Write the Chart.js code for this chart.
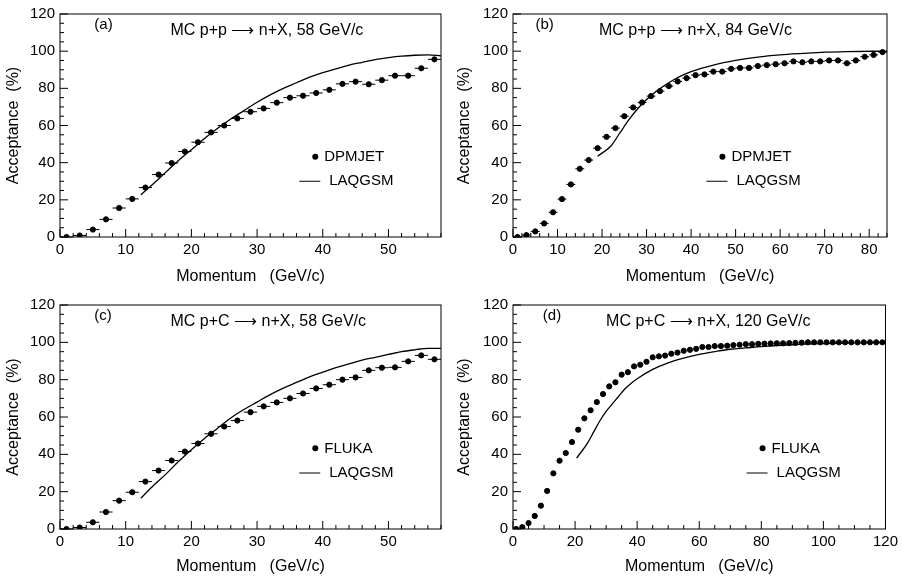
<!DOCTYPE html>
<html>
<head>
<meta charset="utf-8">
<script src="https://cdn.jsdelivr.net/npm/chart.js@4"></script>
<style>
  body { margin: 0; background: #fff; }
  #wrap { position: relative; width: 902px; height: 581px; }
  .cell { position: absolute; width: 451px; height: 290px; }
</style>
</head>
<body>
<div id="wrap">
  <div class="cell" style="left:0;top:0"><canvas id="cA"></canvas></div>
  <div class="cell" style="left:451px;top:0"><canvas id="cB"></canvas></div>
  <div class="cell" style="left:0;top:290px"><canvas id="cC"></canvas></div>
  <div class="cell" style="left:451px;top:290px"><canvas id="cD"></canvas></div>
</div>
<script>
// Panel (a): p+p, 58 GeV/c
const aMomentum = [1,3,5,7,9,11,13,15,17,19,21,23,25,27,29,31,33,35,37,39,41,43,45,47,49,51,53,55,57];
const aDpmjet = [0,0.8,4,9.5,15.6,20.5,26.6,33.6,39.8,46,51,56.3,60,63.8,67.4,69.2,72.3,75,76,77.5,79.2,82.4,83.6,82.2,84.4,86.8,86.8,90.8,95.6];
const aLaqX = [12.3,14,16,18,20,22,24,26,28,30,32,34,36,38,40,42,44,46,48,50,52,54,56,58];
const aLaqY = [22.7,28,34.5,41,47,53,58.5,63.5,68,72.5,76.5,80,83,86,88.5,90.5,92.5,94,95.5,96.5,97.3,97.8,98,97.5];

// Panel (b): p+p, 84 GeV/c
const bMomentum = [1,3,5,7,9,11,13,15,17,19,21,23,25,27,29,31,33,35,37,39,41,43,45,47,49,51,53,55,57,59,61,63,65,67,69,71,73,75,77,79,81,83];
const bDpmjet = [0,1,3,7.3,13.3,20.4,28.3,36.7,41.4,47.8,53.9,58.6,65,69.7,72.4,75.8,78.5,81.2,83.7,85.5,87.1,87.5,89,89,90.5,91,91,92,92.5,93,93.5,94.5,94,94.5,94.5,95,95,93.5,95,97,98,99.5];
const bLaqX = [19,22,24,26,28,30,32,34,36,38,40,45,50,55,60,65,70,75,84];
const bLaqY = [43.5,49,56,63,69,74,78,81.5,84.5,87,89,92.5,95,96.8,98,98.8,99.5,99.8,100];

// Panel (c): p+C, 58 GeV/c
const cMomentum = aMomentum;
const cFluka = [0,0.8,3.6,9.1,15.2,19.7,25.4,31.3,36.7,41.5,45.8,51,54.9,58.1,62.6,65.7,67.8,70,72.6,75.3,77.3,80,81.2,85,86.4,86.6,89.8,93,90.9];
const cLaqX = [12.3,14,16,18,20,22,24,26,28,30,32,34,36,38,40,42,44,46,48,50,52,54,56,58];
const cLaqY = [16.5,22.5,29,36,42.5,48.5,54,59.5,64,68,72,75.5,78.5,81.5,84,86.5,88.5,90.5,92,93.5,95,96,96.8,96.8];

// Panel (d): p+C, 120 GeV/c
const dMomentum = [1,3,5,7,9,11,13,15,17,19,21,23,25,27,29,31,33,35,37,39,41,43,45,47,49,51,53,55,57,59,61,63,65,67,69,71,73,75,77,79,81,83,85,87,89,91,93,95,97,99,101,103,105,107,109,111,113,115,117,119];
const dFluka = [0,1,3.2,7,12.5,20.4,29.8,36.6,40.7,46.6,53.2,59.3,63.6,68,72.3,76.4,78.6,82.7,84,87.1,88,89.6,92,92.5,92.9,93.9,94.5,95.5,96,96.5,97.5,97.5,98,98,98.2,98.5,98.7,99,99,99.2,99.3,99.4,99.5,99.5,99.6,99.7,99.8,100,100,100,100,100,100,100,100,100,100,100,100,100];
const dLaqX = [20.5,24,26,28,30,32,34,36,38,40,45,50,55,60,65,70,75,80,90,100,110,120];
const dLaqY = [38,46,52,58,63,67,71,75,78,80.5,85.5,89,91.5,93.5,95,96.3,97,97.7,98.7,99.3,99.7,100];

const FONT = 'Liberation Sans, Arial, sans-serif';

// inward ticks, horizontal bin bars and text labels, drawn with the chart scales
const decorPlugin = {
  id: 'decor',
  afterDatasetsDraw(chart, args, o) {
    const ctx = chart.ctx, a = chart.chartArea;
    const xs = chart.scales.x, ys = chart.scales.y;
    ctx.save();
    ctx.strokeStyle = '#000';
    ctx.lineWidth = 1;
    // bin-width bars
    if (o.halfBin) {
      const ds = chart.data.datasets[0].data;
      ctx.beginPath();
      ds.forEach(p => {
        const y = ys.getPixelForValue(p.y);
        ctx.moveTo(xs.getPixelForValue(p.x - o.halfBin), y);
        ctx.lineTo(xs.getPixelForValue(p.x + o.halfBin), y);
      });
      ctx.stroke();
    }
    // ticks
    ctx.beginPath();
    for (let v = 0; v <= o.xMax + 1e-6; v += o.xMinor) {
      const px = xs.getPixelForValue(v);
      const major = Math.abs(v / o.xMajor - Math.round(v / o.xMajor)) < 1e-6;
      ctx.moveTo(px, a.bottom);
      ctx.lineTo(px, a.bottom - (major ? 8 : 4));
    }
    for (let v = 0; v <= 120; v += 5) {
      const py = ys.getPixelForValue(v);
      ctx.moveTo(a.left, py);
      ctx.lineTo(a.left + (v % 20 === 0 ? 8 : 4), py);
    }
    ctx.stroke();
    // frame
    ctx.strokeRect(a.left, a.top, a.width, a.height);
    // texts
    const W = a.width, H = a.height;
    ctx.fillStyle = '#000';
    ctx.textBaseline = 'middle';
    ctx.font = '15px ' + FONT;
    ctx.fillText(o.tag, a.left + o.tagX * W, a.top + 11);
    ctx.font = '16px ' + FONT;
    ctx.fillText(o.title, a.left + o.titleX * W, a.top + 17);
    ctx.font = '15px ' + FONT;
    ctx.beginPath();
    ctx.arc(a.left + o.legX * W, a.top + 0.64 * H, 3, 0, Math.PI * 2);
    ctx.fill();
    ctx.fillText(o.mcName, a.left + o.legX * W + 9, a.top + 0.64 * H);
    ctx.beginPath();
    ctx.moveTo(a.left + o.legX * W - 16, a.top + 0.75 * H);
    ctx.lineTo(a.left + o.legX * W + 5, a.top + 0.75 * H);
    ctx.stroke();
    ctx.fillText('LAQGSM', a.left + o.legX * W + 14, a.top + 0.75 * H);
    ctx.restore();
  }
};

function zip(xs, ys) { return xs.map((x, i) => ({ x: x, y: ys[i] })); }

function makePanel(id, cfg) {
  new Chart(document.getElementById(id), {
    type: 'scatter',
    data: {
      datasets: [{
        label: cfg.mcName,
        data: zip(cfg.px, cfg.py),
        backgroundColor: '#000',
        borderColor: '#000',
        pointRadius: 2.6,
        pointHoverRadius: 2.6
      }, {
        label: 'LAQGSM',
        type: 'line',
        data: zip(cfg.lx, cfg.ly),
        borderColor: '#000',
        borderWidth: 1.3,
        pointRadius: 0,
        fill: false,
        tension: 0.4,
        cubicInterpolationMode: 'monotone'
      }]
    },
    options: {
      responsive: true,
      maintainAspectRatio: false,
      animation: false,
      layout: { padding: { top: cfg.top, right: cfg.right } },
      plugins: {
        legend: { display: false },
        tooltip: { enabled: false },
        decor: cfg.decor
      },
      scales: {
        x: {
          type: 'linear', min: 0, max: cfg.xMax,
          grid: { display: false, drawTicks: false },
          border: { display: false },
          afterBuildTicks(s) {
            const t = [];
            for (let v = 0; v <= cfg.xMax; v += cfg.decor.xMajor) t.push({ value: v });
            s.ticks = t;
          },
          ticks: { color: '#000', font: { family: FONT, size: 15 }, padding: 4 },
          title: { display: true, text: 'Momentum   (GeV/c)', color: '#000', font: { family: FONT, size: 16 }, padding: { top: 0 } },
          afterFit(s) { s.height = cfg.xH; }
        },
        y: {
          min: 0, max: 120,
          grid: { display: false, drawTicks: false },
          border: { display: false },
          ticks: { stepSize: 20, color: '#000', font: { family: FONT, size: 15 }, padding: 5 },
          title: { display: true, text: 'Acceptance  (%)', color: '#000', font: { family: FONT, size: 16 }, padding: { bottom: 2 } },
          afterFit(s) { s.width = cfg.yW; }
        }
      }
    },
    plugins: [decorPlugin]
  });
}

makePanel('cA', { mcName: 'DPMJET', px: aMomentum, py: aDpmjet, lx: aLaqX, ly: aLaqY, xMax: 58,
  top: 12, right: 10, xH: 53, yW: 60,
  decor: { halfBin: 1, xMax: 58, xMinor: 2, xMajor: 10, tag: '(a)', tagX: 0.09, title: 'MC p+p \u27F6 n+X, 58 GeV/c', titleX: 0.29, legX: 0.67, mcName: 'DPMJET' } });
makePanel('cB', { mcName: 'DPMJET', px: bMomentum, py: bDpmjet, lx: bLaqX, ly: bLaqY, xMax: 84,
  top: 12, right: 15, xH: 53, yW: 62,
  decor: { halfBin: 1, xMax: 84, xMinor: 2, xMajor: 10, tag: '(b)', tagX: 0.06, title: 'MC p+p \u27F6 n+X, 84 GeV/c', titleX: 0.23, legX: 0.56, mcName: 'DPMJET' } });
makePanel('cC', { mcName: 'FLUKA', px: cMomentum, py: cFluka, lx: cLaqX, ly: cLaqY, xMax: 58,
  top: 15, right: 10, xH: 51, yW: 60,
  decor: { halfBin: 1, xMax: 58, xMinor: 2, xMajor: 10, tag: '(c)', tagX: 0.09, title: 'MC p+C \u27F6 n+X, 58 GeV/c', titleX: 0.29, legX: 0.67, mcName: 'FLUKA' } });
makePanel('cD', { mcName: 'FLUKA', px: dMomentum, py: dFluka, lx: dLaqX, ly: dLaqY, xMax: 120,
  top: 15, right: 15, xH: 51, yW: 62,
  decor: { halfBin: 0, xMax: 120, xMinor: 5, xMajor: 20, tag: '(d)', tagX: 0.08, title: 'MC p+C \u27F6 n+X, 120 GeV/c', titleX: 0.25, legX: 0.67, mcName: 'FLUKA' } });
</script>
</body>
</html>
